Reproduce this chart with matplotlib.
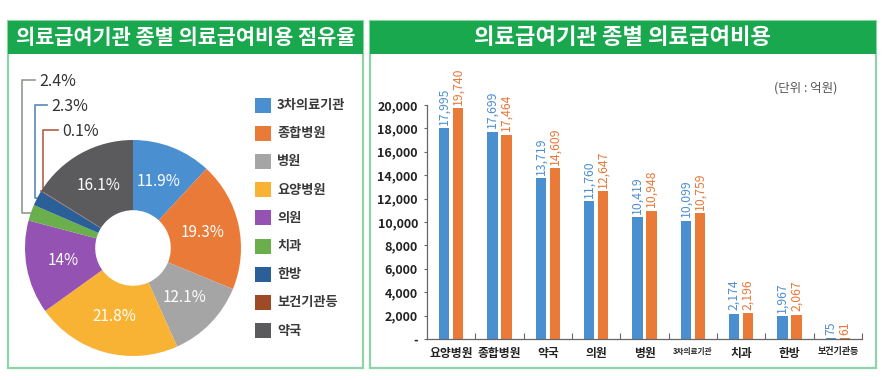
import matplotlib
matplotlib.use('Agg')
import matplotlib.pyplot as plt
from matplotlib.patches import Rectangle
import numpy as np

plt.rcParams['font.family'] = ['Noto Sans CJK KR', 'DejaVu Sans']

# ---------------- data ----------------
left_title = '의료급여기관 종별 의료급여비용 점유율'
right_title = '의료급여기관 종별 의료급여비용'

pie_labels = ['3차의료기관', '종합병원', '병원', '요양병원', '의원', '치과', '한방', '보건기관등', '약국']
pie_shares = [11.9, 19.3, 12.1, 21.8, 14, 2.4, 2.3, 0.1, 16.1]
pie_texts = ['11.9%', '19.3%', '12.1%', '21.8%', '14%', '2.4%', '2.3%', '0.1%', '16.1%']

bar_cats = ['요양병원', '종합병원', '약국', '의원', '병원', '3차의료기관', '치과', '한방', '보건기관등']
vals_2019 = [17995, 17699, 13719, 11760, 10419, 10099, 2174, 1967, 75]
vals_2020 = [19740, 17464, 14609, 12647, 10948, 10759, 2196, 2067, 61]
series_names = ['2019년', '2020년']
y_ticks = [0, 2000, 4000, 6000, 8000, 10000, 12000, 14000, 16000, 18000, 20000]
unit_text = '(단위 : 억원)'

# ---------------- style ----------------
pie_colors = ['#4a90d0', '#ea7a38', '#a5a5a5', '#f8b334', '#9452b3',
              '#6aaf4b', '#2b5f98', '#9e4a26', '#5b5b5d']
series_colors = ['#4a90d0', '#ea7a38']
label_colors = ['#4f8fcf', '#e8783a']
header_green = '#1aa84f'
border_green = '#8fd3aa'

W, H = 889, 380
fig = plt.figure(figsize=(W / 100, H / 100), dpi=100)


def rect(x0, y0, x1, y1):
    return [x0 / W, 1 - y1 / H, (x1 - x0) / W, (y1 - y0) / H]


bg = fig.add_axes([0, 0, 1, 1])
bg.set_xlim(0, W)
bg.set_ylim(H, 0)
bg.axis('off')

# panels
for (x0, x1, title, fs) in [(8, 363, left_title, 15), (370, 876, right_title, 16)]:
    bg.add_patch(Rectangle((x0, 21), x1 - x0, 347, fill=False, ec=border_green, lw=1.6))
    bg.add_patch(Rectangle((x0, 21), x1 - x0, 33, fc=header_green, ec='none'))
    bg.text((x0 + x1) / 2, 37.5, title, color='white', fontsize=fs, fontweight='bold',
            ha='center', va='center')

# ---------------- donut ----------------
cx, cy, R = 133, 248, 108
pax = fig.add_axes(rect(cx - R, cy - R, cx + R, cy + R))
wedges, _ = pax.pie(pie_shares, colors=pie_colors, startangle=90, counterclock=False,
                    radius=1, wedgeprops=dict(width=0.65, edgecolor='none'))
pax.set_xlim(-1, 1)
pax.set_ylim(-1, 1)
pax.set_aspect('equal')
pax.axis('off')

for i, w in enumerate(wedges):
    if pie_shares[i] >= 5:
        a = np.deg2rad((w.theta1 + w.theta2) / 2)
        r = 0.66
        pax.text(r * np.cos(a), r * np.sin(a), pie_texts[i], color='white', fontsize=11,
                 ha='center', va='center')

# leader lines for small slices
leaders = {5: (22, 80, 35, '#8d9c8f'), 6: (35, 105, 47, '#5a86b8'), 7: (43, 130, 58, '#b0604a')}
for i, (vx, sy, sx, col) in leaders.items():
    w = wedges[i]
    a = np.deg2rad((w.theta1 + w.theta2) / 2)
    px, py = cx + R * np.cos(a), cy - R * np.sin(a)
    bg.plot([sx, vx, vx, px], [sy, sy, py, py], color=col, lw=1.2, zorder=1)
    bg.text(sx + 4, sy + 1.5, pie_texts[i], fontsize=11.5, color='#333333', ha='left', va='center')

# legend (left)
for i, name in enumerate(pie_labels):
    y = 105 + i * 28.2
    bg.add_patch(Rectangle((255, y - 7.5), 16, 15, fc=pie_colors[i], ec='none'))
    bg.text(277, y, name, fontsize=9.5, fontweight='bold', color='#3a3a3a', ha='left', va='center')

# ---------------- bars ----------------
bax = fig.add_axes(rect(427, 105, 862, 339))
x = np.arange(len(bar_cats))
off, bw = 0.145, 0.21
for k, vals in enumerate([vals_2019, vals_2020]):
    pos = x + (-off if k == 0 else off)
    bax.bar(pos, vals, width=bw, color=series_colors[k], zorder=2)
    for xp, v in zip(pos, vals):
        bax.annotate(f'{v:,}', xy=(xp, v), xytext=(0, 2.5), textcoords='offset points',
                     rotation=90, ha='center', va='bottom', color=label_colors[k],
                     fontsize=8.8, annotation_clip=False)

bax.set_xlim(-0.5, len(bar_cats) - 0.5)
bax.set_ylim(0, 20000)
bax.spines['top'].set_visible(False)
bax.spines['right'].set_visible(False)
for s in ['left', 'bottom']:
    bax.spines[s].set_color('#666666')
    bax.spines[s].set_linewidth(0.9)
bax.set_yticks(y_ticks)
bax.set_yticklabels(['-' if v == 0 else f'{v:,}' for v in y_ticks])
bax.tick_params(axis='y', length=2.5, width=0.8, color='#666666', labelsize=9,
                labelcolor='#222222', pad=4)
for lbl in bax.get_yticklabels():
    lbl.set_fontweight('bold')
bax.set_xticks(x)
bax.set_xticklabels(bar_cats)
bax.tick_params(axis='x', length=0, pad=6, labelcolor='#222222')
for lbl in bax.get_xticklabels():
    n = len(lbl.get_text())
    lbl.set_fontsize(8.5 if n <= 4 else (6.5 if n == 5 else 5.5))
    lbl.set_fontweight('bold')
bax.set_xticks(np.arange(len(bar_cats)) + 0.5, minor=True)
bax.tick_params(axis='x', which='minor', direction='in', length=4, width=0.8, color='#666666')

# legend (right)
bg.text(806, 88, unit_text, fontsize=9, color='#555555', ha='center', va='center')
for k, name in enumerate(series_names):
    y = 128 + k * 29
    bg.add_patch(Rectangle((767, y - 8), 16, 16, fc=series_colors[k], ec='none'))
    bg.text(789, y, name, fontsize=11, fontweight='bold', color='#222222', ha='left', va='center')

fig.savefig('out.png', dpi=100)
